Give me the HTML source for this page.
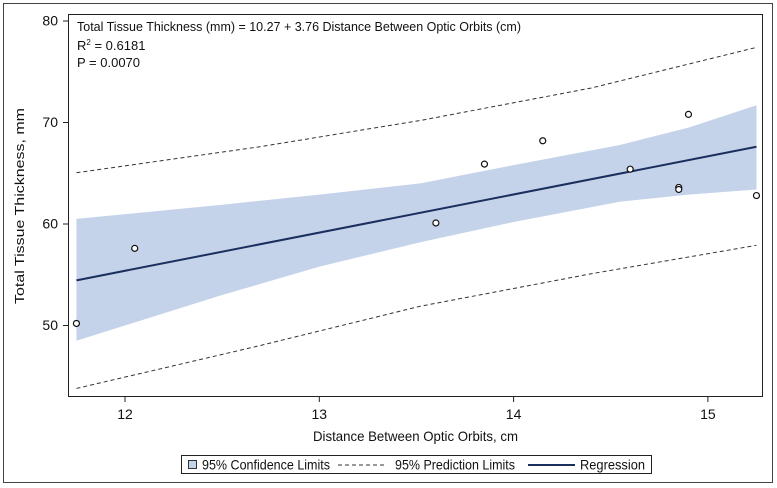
<!DOCTYPE html>
<html><head><meta charset="utf-8"><style>
body{margin:0;background:#fff}
svg{display:block;font-family:"Liberation Sans Narrow","Liberation Sans",Arial,sans-serif}
</style></head><body>
<svg id="c" width="777" height="488" viewBox="0 0 777 488">
<rect x="3.5" y="3.5" width="769" height="479" fill="#fff" stroke="#444"/>
<g id="plot"></g>
<rect x="68.5" y="14.5" width="694" height="382" fill="none" stroke="#222"/>
<g font-size="13" fill="#111" font-family="Liberation Sans, sans-serif">
<text x="77" y="31" textLength="444" lengthAdjust="spacingAndGlyphs">Total Tissue Thickness (mm) = 10.27 + 3.76 Distance Between Optic Orbits (cm)</text>
<text x="77" y="50">R<tspan dy="-5" font-size="8">2</tspan><tspan dy="5"> = 0.6181</tspan></text>
<text x="77" y="67">P = 0.0070</text>
</g>
<text transform="translate(24,206) rotate(-90)" text-anchor="middle" font-size="13" fill="#111" textLength="196" lengthAdjust="spacingAndGlyphs">Total Tissue Thickness, mm</text>
<text x="313" y="441" font-size="14" fill="#111" textLength="205" lengthAdjust="spacingAndGlyphs">Distance Between Optic Orbits, cm</text>
<g font-size="14" fill="#111">
<rect x="181.5" y="455.5" width="470" height="18" fill="#fff" stroke="#222"/>
<rect x="188.5" y="460.5" width="8" height="8" fill="#c5d3ea" stroke="#333"/>
<text x="202" y="469.5" textLength="128" lengthAdjust="spacingAndGlyphs">95% Confidence Limits</text>
<line x1="338" y1="465" x2="385" y2="465" stroke="#333" stroke-dasharray="4,3"/>
<text x="395" y="469.5" textLength="120" lengthAdjust="spacingAndGlyphs">95% Prediction Limits</text>
<line x1="528" y1="465" x2="575" y2="465" stroke="#1a2f5e" stroke-width="2"/>
<text x="580" y="469.5" textLength="65" lengthAdjust="spacingAndGlyphs">Regression</text>
</g>
</svg>
<script>
const ptX=[11.75,12.05,13.6,13.85,14.15,14.6,14.85,14.85,14.9,15.25];
const ptY=[50.2,57.6,60.1,65.9,68.2,65.4,63.6,63.4,70.8,62.8];
const bandX=[11.75,12.5,13.0,13.52,14.0,14.55,14.9,15.25];
const ciUpper=[60.5,61.9,62.9,64.0,65.8,67.8,69.5,71.7];
const ciLower=[48.5,53.0,55.8,58.2,60.2,62.2,62.9,63.4];
const piX=[11.75,12.69,13.52,14.4,15.25];
const piUpper=[65.05,67.6,70.2,73.4,77.4];
const piLower=[43.8,48.0,51.9,55.1,57.9];
const regCoef=[10.27,3.76];
const xTicks=[12,13,14,15];
const yTicks=[50,60,70,80];
const NS='http://www.w3.org/2000/svg';
const X=v=>125+(v-12)*194.3;
const Y=v=>224-(v-60)*10.15;
const g=document.getElementById('plot');
function mk(t,a){const e=document.createElementNS(NS,t);for(const k in a)e.setAttribute(k,a[k]);g.appendChild(e);return e;}
let pts=bandX.map((x,i)=>X(x)+','+Y(ciUpper[i])).concat(bandX.map((x,i)=>X(x)+','+Y(ciLower[i])).reverse());
let band=mk('polygon',{points:pts.join(' '),fill:'#c5d3ea'});


[piUpper,piLower].forEach((arr,j)=>{
  const p=mk('polyline',{points:piX.map((x,i)=>X(x)+','+Y(arr[i])).join(' '),fill:'none',stroke:'#333','stroke-dasharray':'4,3'});
  
  
});
const x0=bandX[0],x1=bandX[bandX.length-1];
const rl=mk('line',{x1:X(x0),y1:Y(regCoef[0]+regCoef[1]*x0),x2:X(x1),y2:Y(regCoef[0]+regCoef[1]*x1),stroke:'#1a2f5e','stroke-width':2});


ptX.forEach((x,i)=>{
  const c=mk('circle',{cx:X(x),cy:Y(ptY[i]),r:3,fill:'#fff',stroke:'#111','stroke-width':1.2});
  
  
});
xTicks.forEach(v=>{
  const l=mk('line',{x1:X(v),y1:397,x2:X(v),y2:402,stroke:'#222'});
  
  
  const t=mk('text',{x:X(v),y:419,'text-anchor':'middle','font-size':14,fill:'#111'});
  t.textContent=v;
  
  
});
yTicks.forEach(v=>{
  const l=mk('line',{x1:63,y1:Y(v),x2:68.5,y2:Y(v),stroke:'#222'});
  
  
  const t=mk('text',{x:58,y:Y(v)+4.5,'text-anchor':'end','font-size':14,fill:'#111'});
  t.textContent=v;
  
  
});
</script>
</body></html>
